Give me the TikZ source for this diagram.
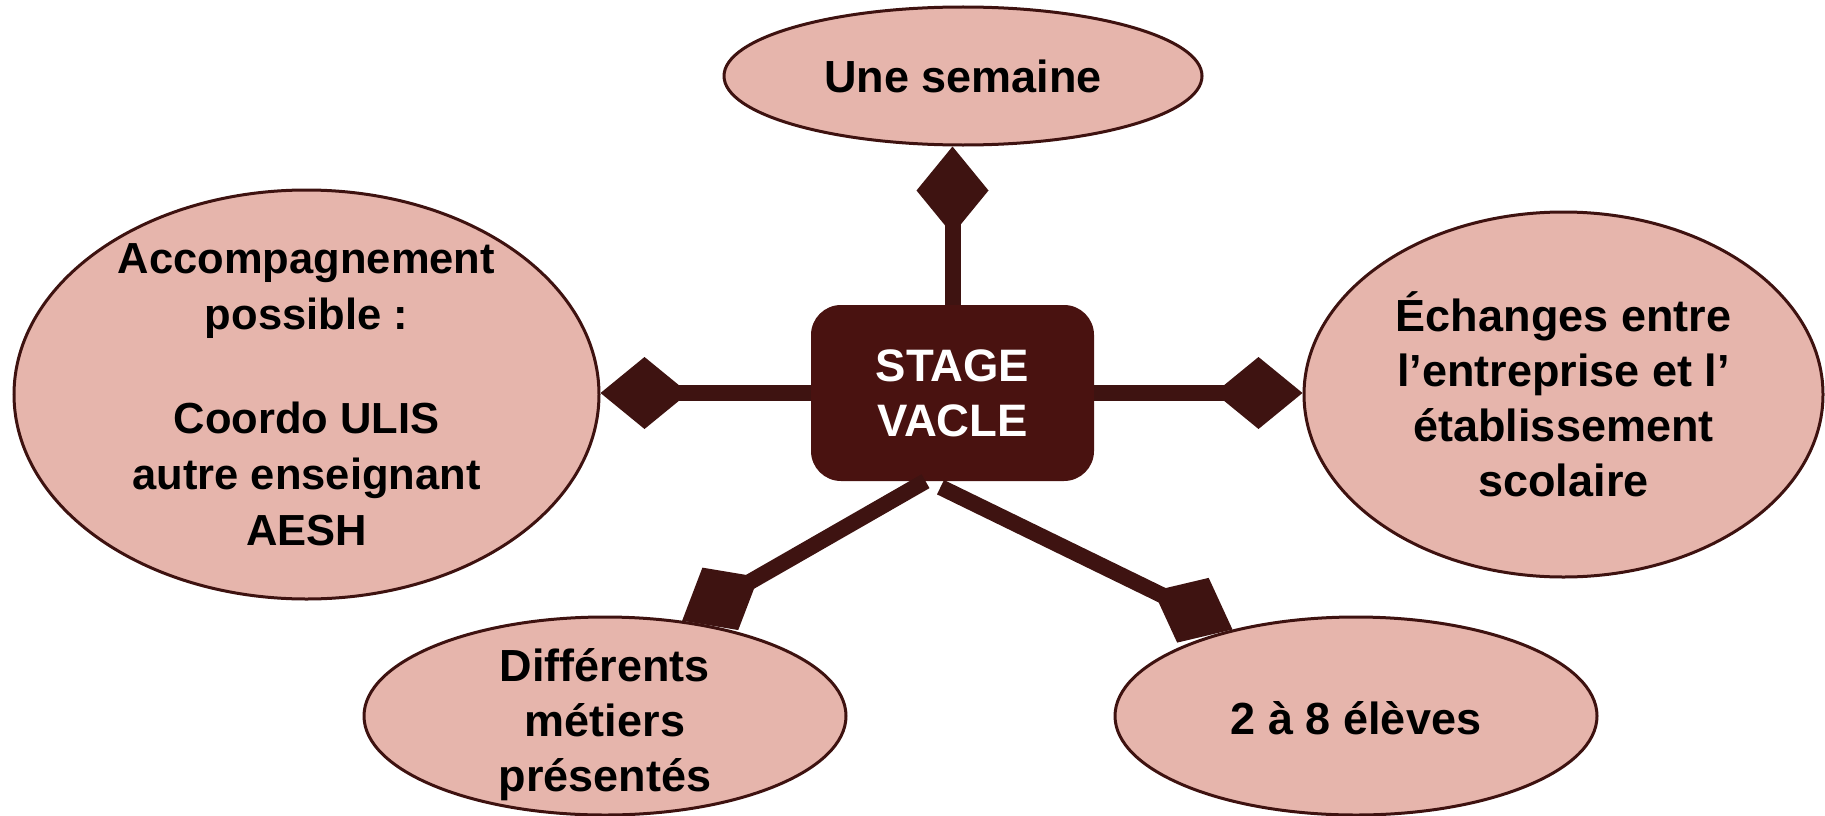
\documentclass[tikz,border=0pt]{standalone}
\usepackage{fontspec}
\setmainfont{Liberation Sans}
\usetikzlibrary{arrows.meta,calc,shapes.geometric}
\definecolor{pinkfill}{RGB}{230,181,172}
\definecolor{edgebrown}{RGB}{62,18,16}
\definecolor{boxfill}{RGB}{73,18,16}
\definecolor{connbrown}{RGB}{62,19,17}
\begin{document}
\begin{tikzpicture}[x=1pt,y=-1pt,
  bubble/.style={ellipse, draw=edgebrown, line width=3pt, fill=pinkfill, inner sep=-90pt,
    align=center, text=black, font=\bfseries\fontsize{45}{55}\selectfont},
  centrebox/.style={rectangle, rounded corners=30pt, fill=boxfill, inner sep=0pt,
    minimum width=283pt, minimum height=176pt, align=center, text=white,
    font=\bfseries\fontsize{45.5}{55}\selectfont},
  conn/.style={draw=connbrown, line width=16pt,
    -{Diamond[length=88pt 0 0,width=72pt 0 0,line width=0pt 0 0,fill=connbrown]}},
]
\useasboundingbox (0,0) rectangle (1825,816);

\node[bubble, minimum width=478pt, minimum height=138pt] (top) at (963,76) {Une semaine};
\node[bubble, minimum width=585pt, minimum height=409pt,
  font=\bfseries\fontsize{43.5}{56}\selectfont] (lft) at (306.5,394.5)
  {Accompagnement\\possible :\\[48pt]Coordo ULIS\\autre enseignant\\AESH};
\node[bubble, minimum width=519pt, minimum height=365pt] (rgt) at (1563.5,394.5)
  {Échanges entre\\l’entreprise et l’\\établissement\\scolaire};
\node[bubble, minimum width=482pt, minimum height=198pt] (bl) at (605,716)
  {\rule{0pt}{50pt}Différents\\métiers\\présentés};
\node[bubble, minimum width=482pt, minimum height=198pt] (br) at (1356,716)
  {\rule{0pt}{38pt}2 à 8 élèves};

\node[centrebox] (box) at (952.5,393) {STAGE\\VACLE};

\coordinate (blS) at ($(box.south)+(-27,0)$);
\coordinate (brS) at ($(box.south)+(-12,6)$);

\draw[conn] (box.north) -- (box.north |- top.south);
\draw[conn] (box.west) -- (box.west -| lft.east);
\draw[conn] (box.east) -- (box.east -| rgt.west);
\draw[conn] (blS) -- (bl.51);
\draw[conn] (brS) -- (br.145);
\end{tikzpicture}
\end{document}
